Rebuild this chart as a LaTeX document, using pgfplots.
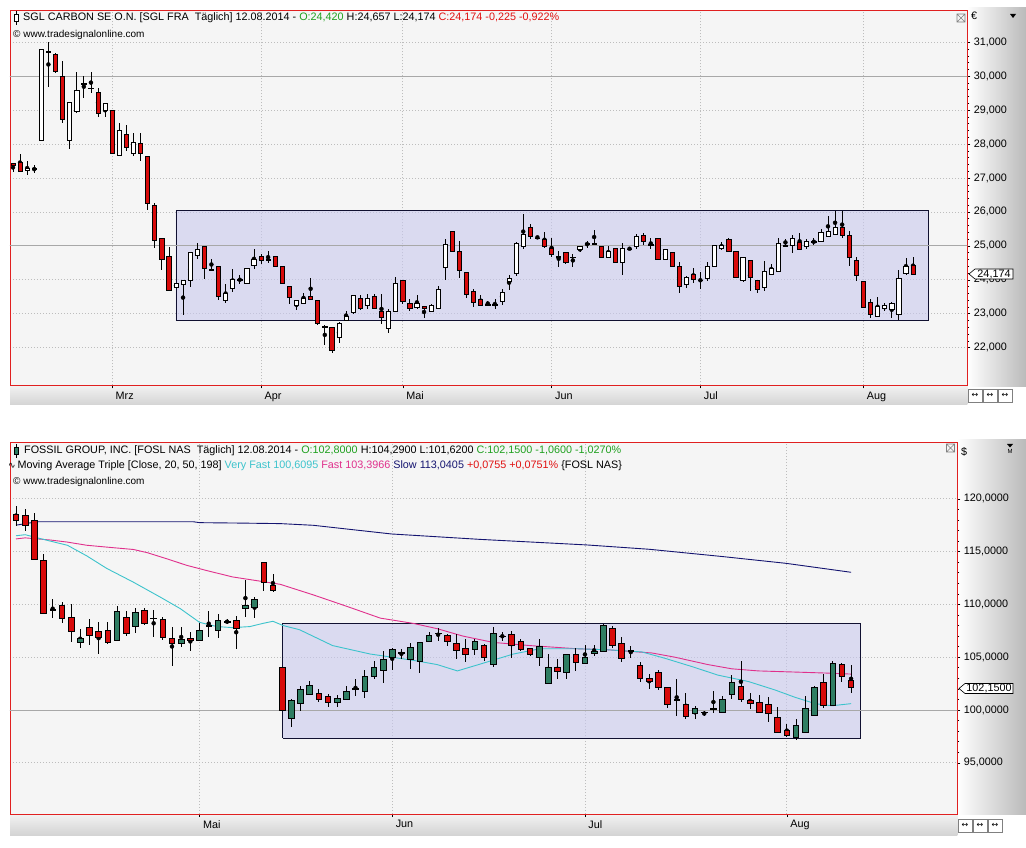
\documentclass[border=0pt]{standalone}
\usepackage{pgfplots}
\pgfplotsset{compat=1.18}
\usepackage{pgfplotstable}
\usepackage{fontspec}
\setmainfont{Liberation Sans}
\newfontfamily\dejavu{DejaVu Sans}
\definecolor{bgc}{HTML}{F5F5F5}
\definecolor{framered}{HTML}{E02020}
\definecolor{candleR}{HTML}{D80A0A}
\definecolor{candleG}{HTML}{2E7D62}
\definecolor{rectc}{HTML}{C8C8EE}
\definecolor{rectedge}{HTML}{101030}
\definecolor{gridc}{HTML}{BDBDBD}
\definecolor{hlinec}{HTML}{A8A8A8}
\definecolor{maC}{HTML}{3CC3CC}
\definecolor{maM}{HTML}{E0308C}
\definecolor{maN}{HTML}{141470}
\definecolor{hgreen}{HTML}{1FA01F}
\definecolor{hred}{HTML}{E01010}

\pgfdeclareplotmark{cbodyT}{\pgfpathrectanglecorners{\pgfpoint{-2.1pt}{-\hh pt}}{\pgfpoint{2.1pt}{\hh pt}}\pgfusepathqfillstroke}
\pgfdeclareplotmark{cbodyB}{\pgfpathrectanglecorners{\pgfpoint{-2.8pt}{-\hh pt}}{\pgfpoint{2.8pt}{\hh pt}}\pgfusepathqfillstroke}

\pgfplotstableread{
o h l c
27.42 27.45 27.17 27.36
27.45 27.71 27.20 27.20
27.22 27.49 27.09 27.28
27.26 27.37 27.15 27.26
28.11 30.79 28.11 30.79
30.72 31.01 29.68 30.72
30.64 30.69 30.08 30.13
30.00 30.45 28.62 28.72
28.11 29.22 27.86 29.22
28.96 30.12 28.90 29.57
29.77 30.01 29.37 29.77
29.64 30.11 29.51 29.64
29.52 29.64 28.80 28.90
28.99 29.19 28.80 29.19
28.99 29.00 27.73 27.73
27.68 28.63 27.64 28.39
28.30 28.55 27.78 27.91
27.74 28.32 27.64 28.04
28.01 28.32 27.51 27.74
27.65 27.65 26.06 26.26
26.18 26.26 24.93 25.15
25.23 25.23 24.28 24.59
24.70 24.97 23.70 23.70
23.77 23.88 23.77 23.88
23.87 23.99 22.96 23.99
23.99 24.81 23.80 24.81
24.72 25.09 24.61 24.90
24.99 24.99 24.03 24.33
24.31 24.62 24.28 24.28
24.40 24.40 23.41 23.50
23.40 23.87 23.32 23.60
23.75 24.31 23.65 24.01
23.99 24.13 23.87 23.99
23.90 24.35 23.90 24.35
24.43 24.90 24.33 24.61
24.68 24.77 24.46 24.56
24.59 24.85 24.48 24.59
24.68 24.68 24.40 24.40
24.39 24.39 23.90 23.90
23.81 23.81 23.28 23.47
23.25 23.40 23.12 23.40
23.31 23.62 23.31 23.44
23.51 24.06 23.41 23.41
23.39 23.39 22.68 22.73
22.61 22.66 22.09 22.61
22.61 22.61 21.85 21.93
22.30 22.75 22.14 22.73
22.81 23.08 22.81 22.91
23.03 23.54 23.00 23.54
23.44 23.54 23.10 23.17
23.25 23.57 23.13 23.44
23.52 23.57 23.13 23.17
23.07 23.57 22.71 22.89
22.57 23.13 22.42 23.06
23.07 24.08 23.07 23.90
23.98 23.98 23.28 23.36
23.30 23.42 23.07 23.16
23.19 23.54 23.13 23.31
23.22 23.22 22.88 23.17
23.07 23.30 23.07 23.25
23.16 23.82 23.13 23.72
24.38 25.20 23.98 25.05
25.43 25.43 24.84 24.84
24.84 25.15 24.04 24.29
24.23 24.23 23.47 23.56
23.65 23.72 23.21 23.32
23.42 23.54 23.23 23.25
23.26 23.37 23.23 23.26
23.26 23.42 23.15 23.26
23.36 23.74 23.27 23.62
23.94 24.13 23.70 24.03
24.19 25.10 24.11 25.07
24.98 25.94 24.90 25.34
25.53 25.64 25.20 25.28
25.22 25.30 25.20 25.22
25.20 25.41 24.95 24.98
24.92 25.22 24.66 24.75
24.67 24.85 24.39 24.67
24.80 24.80 24.47 24.51
24.66 24.75 24.39 24.66
24.89 24.97 24.82 24.97
25.05 25.15 24.95 25.05
25.05 25.47 25.05 25.05
24.97 25.00 24.67 24.67
24.67 25.00 24.63 24.83
24.93 24.93 24.51 24.51
24.51 25.07 24.15 24.92
24.90 24.95 24.88 24.90
24.98 25.34 24.90 25.28
25.30 25.37 25.02 25.12
25.02 25.22 24.92 25.02
25.22 25.22 24.61 24.61
24.61 24.90 24.61 24.90
24.80 24.80 24.40 24.40
24.41 24.51 23.62 23.82
23.86 24.11 23.77 24.07
24.15 24.36 23.90 24.00
23.98 24.23 23.74 23.98
24.05 24.51 23.96 24.40
24.40 25.02 24.40 25.02
24.92 25.10 24.88 25.02
25.18 25.22 24.84 24.84
24.84 24.84 24.07 24.07
23.98 24.66 23.92 24.66
24.58 24.58 23.68 24.06
23.98 23.98 23.62 23.72
23.77 24.55 23.67 24.24
24.17 24.46 24.17 24.35
24.25 25.22 24.25 25.07
25.00 25.20 25.00 25.00
25.00 25.32 24.80 25.22
25.10 25.37 24.90 24.90
24.98 25.20 24.92 25.14
25.12 25.22 25.02 25.12
25.12 25.49 25.12 25.41
25.28 25.87 25.28 25.43
25.33 26.03 25.33 25.54
25.55 26.03 25.22 25.30
25.32 25.44 24.41 24.66
24.58 24.66 23.97 24.13
23.95 23.95 23.19 23.19
23.34 23.42 22.88 22.98
22.91 23.50 22.91 23.23
23.16 23.31 23.07 23.26
23.13 23.35 22.88 23.31
22.98 24.29 22.81 24.05
24.19 24.65 24.15 24.40
24.42 24.657 24.174 24.174
}\topdata

\pgfplotstableread{
o h l c
118.57 119.36 117.46 117.94
118.47 119.04 116.99 117.53
118.00 118.63 114.24 114.24
114.21 114.78 109.16 109.16
109.50 110.51 108.68 109.50
109.95 110.20 108.20 108.71
108.78 110.04 106.41 107.45
106.44 107.67 105.84 106.82
107.83 108.62 106.16 107.10
107.45 108.30 105.30 106.88
107.58 108.30 106.25 106.41
106.63 109.88 106.63 109.35
108.78 109.41 107.04 107.29
107.96 109.66 107.26 109.25
109.41 109.66 108.08 108.21
108.68 109.47 106.95 108.68
108.62 108.84 106.63 106.88
106.82 107.89 104.14 106.32
106.32 107.89 105.94 106.73
106.82 107.36 105.62 106.63
106.63 108.20 106.50 107.52
107.99 109.41 106.95 107.99
107.58 109.09 106.82 108.53
108.37 108.62 108.10 108.37
108.53 108.94 105.78 107.74
109.66 112.35 108.84 109.95
109.73 110.67 108.71 110.51
113.99 113.99 111.30 112.06
111.84 112.88 111.15 111.30
104.06 104.06 100.00 100.00
99.23 101.06 98.39 100.90
100.65 102.26 99.94 101.94
101.45 102.77 101.45 102.32
101.61 102.03 100.74 100.97
101.29 101.55 100.26 100.74
100.74 101.39 100.32 101.06
100.97 102.26 100.90 101.77
102.00 102.90 101.29 102.00
101.81 103.81 101.16 103.16
103.23 104.68 102.90 104.06
103.74 105.58 102.58 104.84
104.94 105.90 103.80 105.74
105.42 105.80 104.84 105.42
104.84 106.32 103.87 105.90
104.58 106.39 103.55 106.39
106.52 107.35 106.40 107.10
107.26 107.74 106.52 107.26
107.03 107.20 106.06 106.48
106.32 107.19 104.84 105.68
105.81 106.71 104.52 105.23
105.74 106.71 105.23 106.48
106.13 106.23 104.68 105.00
104.35 107.84 104.06 107.26
106.97 107.42 106.55 106.97
107.19 107.52 104.94 106.13
106.52 106.71 105.58 105.74
105.81 105.90 105.10 105.26
104.94 106.71 104.19 106.06
102.52 105.26 102.52 104.06
104.06 104.84 102.97 103.65
103.58 105.23 102.90 105.23
105.23 105.87 103.65 104.52
104.45 106.13 104.39 105.03
105.35 106.19 105.10 105.55
105.58 108.16 105.58 108.06
107.74 107.94 105.90 106.13
106.32 106.87 104.52 104.90
105.58 106.06 104.90 105.58
104.19 104.52 102.68 102.97
103.03 103.42 102.03 102.71
103.61 103.81 101.87 102.10
102.19 102.19 100.16 100.58
100.97 102.94 99.45 100.97
100.58 101.61 99.19 99.39
99.71 100.42 99.13 100.19
99.77 99.94 99.39 99.77
100.10 101.77 99.74 100.10
99.77 101.29 99.68 101.00
101.45 103.32 101.06 102.65
102.26 104.61 100.74 100.97
100.90 101.61 100.10 100.65
100.74 101.39 99.68 99.77
100.58 101.23 98.90 99.71
99.35 100.32 97.90 97.90
98.06 98.65 97.45 97.61
97.42 99.13 97.19 98.55
97.90 101.29 97.90 100.16
99.52 102.26 99.52 102.13
102.58 103.39 100.19 100.48
100.42 104.61 100.42 104.45
104.32 104.45 102.68 103.16
102.80 104.29 101.62 102.15
}\botdata

\pgfplotsset{
  candleaxis/.style={
    scale only axis,
    axis background/.style={fill=bgc},
    axis line style={draw=framered, line width=0.8pt},
    ytick pos=right, yticklabel pos=right,
    xtick pos=left,
    tick align=outside,
    major tick length=3pt, minor tick length=2pt,
    every tick/.style={black, line width=0.5pt},
    ymajorgrids, xmajorgrids,
    grid style={gridc, line width=0.7pt, dash pattern=on 0.8pt off 2.2pt},
    tick label style={font=\fontsize{10.8}{13}\selectfont},
    xticklabel style={anchor=north west, xshift=0pt, yshift=0pt},
    yticklabel style={anchor=west},
    /pgf/number format/use comma,
    /pgf/number format/fixed,
    /pgf/number format/fixed zerofill,
    /pgf/number format/1000 sep={},
    /pgf/number format/assume math mode=true,
  },
  wick/.style={only marks, mark=none, forget plot,
    error bars/.cd, y dir=both, y explicit, error mark=none,
    error bar style={draw=black, solid, line width=0.75pt}},
}

\begin{document}
\begin{tikzpicture}[x=1pt,y=1pt]
\fill[white] (0,0) rectangle (1026,847);
\path[use as bounding box] (0,0) rectangle (1026,847);
% right scale panels and date strips
\shade[left color=white, right color=black!27] (967.3,839) rectangle (1026,460);
\shade[left color=white, right color=black!27] (957.3,407) rectangle (1026,33);
\shade[top color=black!5, bottom color=black!17] (10,461.7) rectangle (967.3,442);
\shade[top color=black!5, bottom color=black!17] (10,33) rectangle (957.3,12);

% ================= TOP PANEL =================
\begin{axis}[candleaxis,
  at={(10pt,837pt)}, anchor=north west,
  width=957.3pt, height=375.3pt,
  xmin=-0.42, xmax=134.66, ymin=20.89, ymax=31.95,
  xtick={14,35,55,76,97,120}, xticklabels={Mrz,Apr,Mai,Jun,Jul,Aug},
  ytick={22,...,31}, minor y tick num=4,
  yticklabel style={/pgf/number format/precision=3},
]
\addplot[fill=rectc, fill opacity=0.6, draw=rectedge, line width=0.8pt, forget plot]
  coordinates {(23,22.80) (129.1,22.80) (129.1,26.04) (23,26.04) (23,22.80)};
\addplot[hlinec, line width=0.8pt, forget plot] coordinates {(-1,30) (140,30)};
\addplot[hlinec, line width=0.8pt, forget plot] coordinates {(-1,25) (140,25)};
\addplot[wick] table[x expr=\coordindex, y expr={(\thisrow{h}+\thisrow{l})/2}, y error expr={(\thisrow{h}-\thisrow{l})/2}] \topdata;
\addplot[scatter, only marks, mark=cbodyT, mark options={line width=0.7pt},
  scatter/use mapped color={draw=black, fill=candleR},
  visualization depends on={max(abs(\thisrow{c}-\thisrow{o})*16.965,0.35) \as \hh},
  y filter/.expression={\thisrow{c}<\thisrow{o} ? y : nan}]
  table[x expr=\coordindex, y expr={(\thisrow{o}+\thisrow{c})/2}] \topdata;
\addplot[scatter, only marks, mark=cbodyT, mark options={line width=0.7pt},
  scatter/use mapped color={draw=black, fill=white},
  visualization depends on={max(abs(\thisrow{c}-\thisrow{o})*16.965,0.35) \as \hh},
  y filter/.expression={\thisrow{c}<\thisrow{o} ? nan : y}]
  table[x expr=\coordindex, y expr={(\thisrow{o}+\thisrow{c})/2}] \topdata;
\end{axis}

% ================= BOTTOM PANEL =================
\begin{axis}[candleaxis,
  at={(10pt,404.7pt)}, anchor=north west,
  width=947.3pt, height=371.7pt,
  xmin=-0.654, xmax=102.58, ymin=90.15, ymax=125.35,
  xtick={20,41,62,84}, xticklabels={Mai,Jun,Jul,Aug},
  ytick={95,100,...,120}, minor y tick num=4,
  yticklabel style={/pgf/number format/precision=4},
]
\addplot[fill=rectc, fill opacity=0.6, draw=rectedge, line width=0.8pt, forget plot]
  coordinates {(29.07,97.35) (92.0,97.35) (92.0,108.23) (29.07,108.23) (29.07,97.35)};
\addplot[hlinec, line width=0.8pt, forget plot] coordinates {(-1,100) (105,100)};
% moving averages
\addplot[maN, line width=0.9pt] coordinates {(0,117.5) (2.3,117.83) (19.3,117.83) (20,117.74) (24.4,117.7) (28.8,117.65) (32.4,117.49) (40.9,116.67) (50.5,116.16) (62.2,115.63) (69,115.22) (77.1,114.52) (83.9,113.89) (91,113.04)};
\addplot[maM, line width=0.9pt] coordinates {(0,116.2) (1,116.3) (3.7,116.1) (5.6,115.9) (7.7,115.6) (10.2,115.4) (12.8,115.2) (14.3,114.9) (16.5,114.3) (18.6,113.7) (20.8,113.2) (23.6,112.6) (26.6,112.2) (28.8,111.9) (32.4,110.9) (36.1,109.8) (39.7,108.7) (43.3,108.2) (45.9,107.7) (48.7,107.0) (52.0,106.4) (56.0,106.1) (61.1,105.8) (64.5,105.7) (69.3,105.4) (71.8,105.0) (75.4,104.3) (78.0,103.9) (80.9,103.7) (84.6,103.6) (88.2,103.5) (91,103.4)};
\addplot[maC, line width=0.9pt] coordinates {(0,116.5) (1,116.6) (1.9,116.4) (3.7,116.0) (5.6,115.6) (7.7,114.6) (9.9,113.4) (12.8,112.1) (15.7,110.7) (17.9,109.6) (20.0,108.3) (21.9,107.9) (23.6,107.8) (25.5,107.9) (26.9,108.2) (28.0,108.4) (29.1,108.0) (30.9,107.6) (34.5,106.1) (38.6,105.3) (43.3,104.7) (45.9,104.3) (48.1,103.7) (50.6,104.35) (54.2,105.3) (57.1,105.8) (61.1,105.8) (64.5,105.7) (68.2,105.5) (70.7,104.9) (73.7,104.1) (76.5,103.3) (79.8,102.7) (82.7,101.9) (84.9,101.2) (87.1,100.6) (88.9,100.4) (91,100.6)};
\addplot[wick] table[x expr=\coordindex, y expr={(\thisrow{h}+\thisrow{l})/2}, y error expr={(\thisrow{h}-\thisrow{l})/2}] \botdata;
\addplot[scatter, only marks, mark=cbodyB, mark options={line width=0.7pt},
  scatter/use mapped color={draw=black, fill=candleR},
  visualization depends on={max(abs(\thisrow{c}-\thisrow{o})*5.28,0.35) \as \hh},
  y filter/.expression={\thisrow{c}<\thisrow{o} ? y : nan}]
  table[x expr=\coordindex, y expr={(\thisrow{o}+\thisrow{c})/2}] \botdata;
\addplot[scatter, only marks, mark=cbodyB, mark options={line width=0.7pt},
  scatter/use mapped color={draw=black, fill=candleG},
  visualization depends on={max(abs(\thisrow{c}-\thisrow{o})*5.28,0.35) \as \hh},
  y filter/.expression={\thisrow{c}<\thisrow{o} ? nan : y}]
  table[x expr=\coordindex, y expr={(\thisrow{o}+\thisrow{c})/2}] \botdata;
\end{axis}

% ================= DECORATIONS =================
\tikzset{htext/.style={anchor=west, inner sep=0pt, font=\fontsize{10.8}{13}\selectfont}}
% top header
\draw[black, line width=0.6pt] (16.5,836) -- (16.5,822);
\draw[black, fill=white, line width=0.6pt] (14.5,832.5) rectangle (18.5,826);
\node[htext] at (23,829) {SGL CARBON SE O.N. [SGL FRA\ \ Täglich] 12.08.2014 - \textcolor{hgreen}{O:24,420} H:24,657 L:24,174 \textcolor{hred}{C:24,174 -0,225 -0,922\%}};
\node[htext, font=\fontsize{10}{12}\selectfont] at (13,812) {© www.tradesignalonline.com};
% bottom header
\draw[black, line width=0.6pt] (16.5,403) -- (16.5,389);
\draw[black, fill=candleG, line width=0.6pt] (14.5,399.5) rectangle (18.5,392.5);
\node[htext] at (24,396) {FOSSIL GROUP, INC. [FOSL NAS\ \ Täglich] 12.08.2014 - \textcolor{hgreen}{O:102,8000} H:104,2900 L:101,6200 \textcolor{hgreen}{C:102,1500 -1,0600 -1,0270\%}};
\node[htext] at (8,381) {{\dejavu\fontsize{9}{10}\selectfont ∿}\,Moving Average Triple [Close, 20, 50, 198] \textcolor{maC}{Very Fast 100,6095} \textcolor{maM}{Fast 103,3966} \textcolor{maN}{Slow 113,0405} \textcolor{hred}{+0,0755 +0,0751\%} \{FOSL NAS\}};
\node[htext, font=\fontsize{10}{12}\selectfont] at (13,365) {© www.tradesignalonline.com};
% close boxes
\draw[gray, line width=0.6pt] (957,833) rectangle (965,825) (957,833) -- (965,825) (957,825) -- (965,833);
\draw[gray, line width=0.6pt] (946.5,403) rectangle (954.5,395) (946.5,403) -- (954.5,395) (946.5,395) -- (954.5,403);
% unit labels
\node[htext] at (971,831) {€};
\fill[black] (1010,833) -- (1016,833) -- (1013,829) -- cycle;
\node[htext] at (961,395) {\$};
\fill[black] (1007,403) -- (1013,403) -- (1010,399.5) -- cycle;
\node[anchor=center, inner sep=0pt, font=\fontsize{6}{7}\selectfont] at (1010,395.5) {M};
% last price tags
\draw[black, fill=white, line width=0.6pt] (969,573) -- (975,578) -- (1013,578) -- (1013,568) -- (975,568) -- cycle;
\node[anchor=center, inner sep=0pt, font=\fontsize{10.8}{13}\selectfont] at (994,573) {24,174};
\draw[black, fill=white, line width=0.6pt] (959,158.5) -- (965,163.5) -- (1013,163.5) -- (1013,153.5) -- (965,153.5) -- cycle;
\node[anchor=center, inner sep=0pt, font=\fontsize{10.8}{13}\selectfont] at (989,158.5) {102,1500};
% navigation icons
\foreach \xx in {968,983,998}{\draw[gray, fill=white, line width=0.5pt] (\xx,445) rectangle (\xx+14,458);
  \node[inner sep=0pt, font=\dejavu\fontsize{8}{9}\selectfont] at (\xx+7,451.5) {↔};}
\foreach \xx in {958,973,988}{\draw[gray, fill=white, line width=0.5pt] (\xx,15) rectangle (\xx+14,28);
  \node[inner sep=0pt, font=\dejavu\fontsize{8}{9}\selectfont] at (\xx+7,21.5) {↔};}
\end{tikzpicture}
\end{document}
